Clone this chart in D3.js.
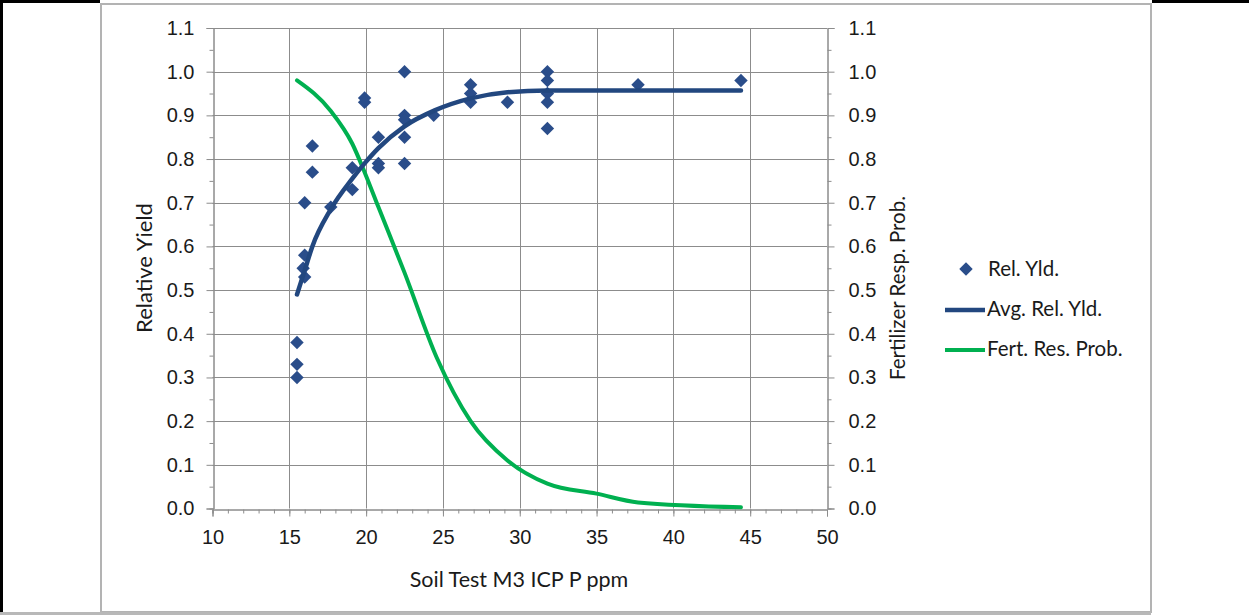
<!DOCTYPE html>
<html>
<head>
<meta charset="utf-8">
<script src="https://cdn.jsdelivr.net/npm/d3@7"></script>
<style>
  body { margin: 0; background: #fff; }
  svg { display: block; font-family: Lato, "Open Sans", sans-serif; }
</style>
</head>
<body>
<div class="chart"></div>
<script>
// Rel. Yld. observations
var relX = [22.5, 19.9, 19.9, 22.5, 22.5, 24.4, 20.8, 22.5, 16.5, 19.1, 20.8, 20.8, 22.5, 16.5, 19.1, 16.0, 17.7,
            16.0, 15.9, 16.0, 15.5, 15.5, 15.5,
            26.8, 26.8, 26.8, 29.2, 31.8, 31.8, 31.8, 31.8, 31.8, 37.7, 44.4];
var relY = [1.00, 0.94, 0.93, 0.90, 0.89, 0.90, 0.85, 0.85, 0.83, 0.78, 0.79, 0.78, 0.79, 0.77, 0.73, 0.70, 0.69,
            0.58, 0.55, 0.53, 0.38, 0.33, 0.30,
            0.97, 0.95, 0.93, 0.93, 1.00, 0.98, 0.95, 0.93, 0.87, 0.97, 0.98];

// Avg. Rel. Yld. curve
var avgX = [15.5, 16.0, 16.5, 17.7, 19.1, 19.9, 20.8, 22.5, 24.5, 26.8, 29.2, 31.8, 37.7, 44.4];
var avgY = [0.49, 0.545, 0.60, 0.685, 0.755, 0.79, 0.825, 0.875, 0.912, 0.939, 0.953, 0.957, 0.957, 0.957];

// Fert. Res. Prob. curve
var probX = [15.5, 17.7, 19.1, 19.9, 20.8, 22.5, 24.6, 26.8, 29.2, 31.8, 35.0, 37.7, 44.4];
var probY = [0.98, 0.91, 0.835, 0.77, 0.69, 0.54, 0.345, 0.20, 0.11, 0.057, 0.034, 0.014, 0.003];

var xTicks = [10, 15, 20, 25, 30, 35, 40, 45, 50];
var yTicks = [0, 0.1, 0.2, 0.3, 0.4, 0.5, 0.6, 0.7, 0.8, 0.9, 1.0, 1.1];

var legendNames = ["Rel. Yld.", "Avg. Rel. Yld.", "Fert. Res. Prob."];

var W = 1249, H = 615;
var blue = "#22477f", dot = "#2a4d8a", green = "#00b050", grid = "#8c8c8c", ink = "#1a1a1a";

var svg = d3.select('.chart').append('svg')
  .attr('width', W)
  .attr('height', H);

// frame
svg.append('rect').attr('x', 101).attr('y', 4).attr('width', 1050).attr('height', 608)
  .attr('fill', '#fff').attr('stroke', '#b3b3b3').attr('stroke-width', 2);
svg.append('rect').attr('x', 0).attr('y', 0).attr('width', 3).attr('height', H).attr('fill', '#000');
svg.append('rect').attr('x', 0).attr('y', 0).attr('width', 100).attr('height', 3).attr('fill', '#000');
svg.append('rect').attr('x', 1152).attr('y', 0).attr('width', 97).attr('height', 3).attr('fill', '#000');
svg.append('rect').attr('x', 0).attr('y', 612).attr('width', 1151).attr('height', 3).attr('fill', '#b8b8b8');

var x = d3.scaleLinear().domain([10, 50]).range([212.5, 827]);
var y = d3.scaleLinear().domain([0, 1.1]).range([508.5, 28]);

// gridlines
svg.append('g').selectAll('line').data(yTicks.slice(1)).enter().append('line')
  .attr('x1', x(10)).attr('x2', x(50))
  .attr('y1', function(d) { return Math.round(y(d)) + 0.5; })
  .attr('y2', function(d) { return Math.round(y(d)) + 0.5; })
  .attr('stroke', grid);
svg.append('g').selectAll('line').data(xTicks.slice(1, -1)).enter().append('line')
  .attr('x1', function(d) { return Math.round(x(d)) + 0.5; })
  .attr('x2', function(d) { return Math.round(x(d)) + 0.5; })
  .attr('y1', y(0)).attr('y2', y(1.1))
  .attr('stroke', grid);

// axes
var xAxis = d3.axisBottom(x).tickValues(xTicks).tickSize(7).tickPadding(13).tickFormat(d3.format('d'));
var xMinor = d3.axisBottom(x).tickValues(d3.range(10, 51, 1)).tickSize(4).tickFormat('');
var yLeft = d3.axisLeft(y).tickValues(yTicks).tickSize(7).tickPadding(12).tickFormat(d3.format('.1f'));
var yLeftMinor = d3.axisLeft(y).tickValues(d3.range(0.05, 1.1, 0.1)).tickSize(4).tickFormat('');
var yRight = d3.axisRight(y).tickValues(yTicks).tickSize(7).tickPadding(14).tickFormat(d3.format('.1f'));
var yRightMinor = d3.axisRight(y).tickValues(d3.range(0.05, 1.1, 0.1)).tickSize(4).tickFormat('');

function styleAxis(g) {
  g.select('.domain').attr('stroke', grid);
  g.selectAll('.tick line').attr('stroke', grid);
  g.selectAll('.tick text').attr('fill', ink).style('font-size', '20px');
}

var by = Math.round(y(0)) + 0.5;
svg.append('g').attr('transform', 'translate(0,' + by + ')').call(xMinor).call(styleAxis);
svg.append('g').attr('transform', 'translate(0,' + by + ')').call(xAxis).call(styleAxis);
var lx = Math.round(x(10)) + 0.5, rx = Math.round(x(50)) + 0.5;
svg.append('g').attr('transform', 'translate(' + lx + ',0)').call(yLeftMinor).call(styleAxis);
svg.append('g').attr('transform', 'translate(' + lx + ',0)').call(yLeft).call(styleAxis);
svg.append('g').attr('transform', 'translate(' + rx + ',0)').call(yRightMinor).call(styleAxis);
svg.append('g').attr('transform', 'translate(' + rx + ',0)').call(yRight).call(styleAxis);

// axis titles
svg.append('text').attr('x', 519).attr('y', 587).attr('text-anchor', 'middle')
  .style('font-size', '21.5px').attr('fill', ink).text('Soil Test M3 ICP P ppm');
svg.append('text').attr('transform', 'translate(152,268) rotate(-90)').attr('text-anchor', 'middle')
  .style('font-size', '22px').attr('fill', ink).text('Relative Yield');
svg.append('text').attr('transform', 'translate(905,288) rotate(-90)').attr('text-anchor', 'middle')
  .style('font-size', '20.5px').attr('fill', ink).text('Fertilizer Resp. Prob.');

// lines
var line = d3.line().curve(d3.curveMonotoneX)
  .x(function(d) { return x(d[0]); })
  .y(function(d) { return y(d[1]); });

svg.append('path').datum(d3.zip(probX, probY)).attr('d', line)
  .attr('fill', 'none').attr('stroke', green).attr('stroke-width', 4).attr('stroke-linecap', 'round');

var diamond = d3.symbol().type(d3.symbolDiamond2).size(115);
svg.append('g').selectAll('path').data(d3.zip(relX, relY)).enter().append('path')
  .attr('d', diamond)
  .attr('transform', function(d) { return 'translate(' + x(d[0]) + ',' + y(d[1]) + ')'; })
  .attr('fill', dot);

svg.append('path').datum(d3.zip(avgX, avgY)).attr('d', line)
  .attr('fill', 'none').attr('stroke', blue).attr('stroke-width', 4.5).attr('stroke-linecap', 'round');

// legend
var leg = svg.append('g').style('font-size', '20.5px');
leg.append('path').attr('d', diamond).attr('transform', 'translate(966,269)').attr('fill', dot);
leg.append('line').attr('x1', 945).attr('x2', 985).attr('y1', 310).attr('y2', 310)
  .attr('stroke', blue).attr('stroke-width', 4.5);
leg.append('line').attr('x1', 945).attr('x2', 985).attr('y1', 350).attr('y2', 350)
  .attr('stroke', green).attr('stroke-width', 4);
leg.selectAll('text').data(legendNames).enter().append('text')
  .attr('x', function(d, i) { return i === 0 ? 988 : 987; })
  .attr('y', function(d, i) { return 276 + i * 40; })
  .attr('fill', ink)
  .text(function(d) { return d; });
</script>
</body>
</html>
